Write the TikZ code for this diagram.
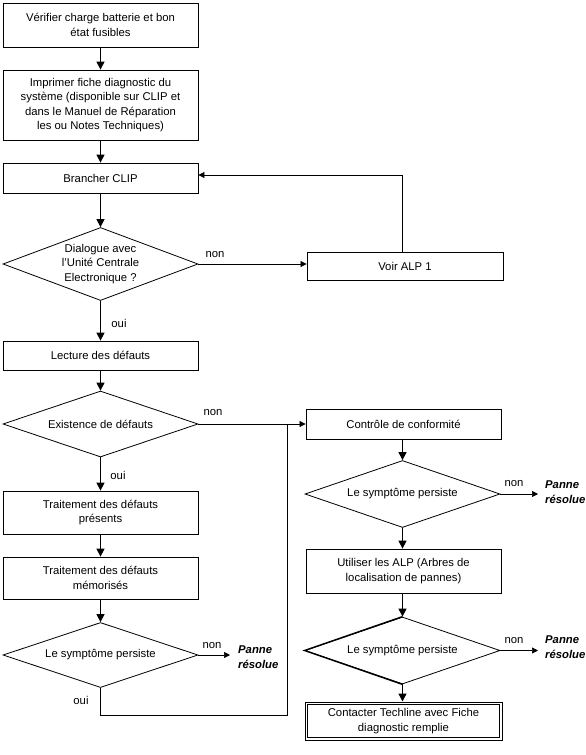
\documentclass[tikz,border=0pt]{standalone}
\usepackage{fontspec}
\setmainfont{Liberation Sans}
\usetikzlibrary{shapes.geometric,arrows.meta,calc}
\begin{document}
\begin{tikzpicture}[x=1pt,y=-1pt,
  font=\fontsize{11.3}{14.5}\selectfont,
  box/.style={draw,line width=0.8pt,rectangle,inner sep=0pt,align=center,minimum width=195pt},
  dia/.style={draw,line width=0.8pt,diamond,inner sep=0pt,align=center,minimum width=195pt,aspect=2.9},
  mainarr/.style={line width=1.3pt,-{Triangle[length=8pt,width=8pt]}},
  sidearr/.style={line width=0.7pt,-{Triangle[length=6pt,width=6pt]}},
  thin line/.style={line width=0.7pt},
  lbl/.style={inner sep=0pt},
  res/.style={inner sep=0pt,align=left,font=\fontsize{11.3}{14.5}\selectfont\bfseries\itshape}]
\useasboundingbox (0,0) rectangle (586,755);
% left column
\node[box,minimum height=44pt] (b1) at (100.5,25) {Vérifier charge batterie et bon\\état fusibles};
\node[box,minimum height=70pt] (b2) at (100.5,105) {Imprimer fiche diagnostic du\\système (disponible sur CLIP et\\dans le Manuel de Réparation\\les ou Notes Techniques)};
\node[box,minimum height=30pt] (b3) at (100.5,178) {Brancher CLIP};
\node[dia,minimum height=73pt] (d1) at (100.5,264) {Dialogue avec\\l'Unité Centrale\\Electronique ?};
\node[box,minimum width=196pt,minimum height=28pt] (alp) at (405,266) {Voir ALP 1};
\node[box,minimum height=29pt] (b4) at (100.5,355.5) {Lecture des défauts};
\node[dia,minimum height=66pt] (d2) at (100.5,424) {Existence de défauts};
\node[box,minimum height=43pt] (b5) at (100.5,512.5) {Traitement des défauts\\présents};
\node[box,minimum height=42pt] (b6) at (100.5,578) {Traitement des défauts\\mémorisés};
\node[dia,minimum height=65pt] (d3) at (100.5,655) {Le symptôme persiste};
\node[res,anchor=west] (r1) at (238,657) {Panne\\résolue};
% right column
\node[box,minimum height=30pt] (ctrl) at (403.5,424) {Contrôle de conformité};
\node[dia,minimum height=67pt] (d4) at (402.5,494) {Le symptôme persiste};
\node[res,anchor=west] (r2) at (545,492) {Panne\\résolue};
\node[box,minimum height=44pt] (b7) at (403.5,571) {Utiliser les ALP (Arbres de\\localisation de pannes)};
\node[dia,minimum height=67pt] (d5) at (402.5,650.5) {Le symptôme persiste};
\node[res,anchor=west] (r3) at (545,647) {Panne\\résolue};
\node[box,line width=1pt,minimum width=197pt,minimum height=38pt] (b8) at (403.5,721) {Contacter Techline avec Fiche\\diagnostic remplie};
\draw[line width=0.7pt] ([shift={(3pt,-3pt)}]b8.north west) rectangle ([shift={(-3pt,3pt)}]b8.south east);
\draw[line width=1.4pt,line join=miter] (d5.north) -- (d5.west) -- (d5.south);
% coordinates
\coordinate (m) at (287,424);
\coordinate (j) at (287,715);
% main arrows
\draw[mainarr] (b1) -- (b2);
\draw[mainarr] (b2) -- (b3);
\draw[mainarr] (b3) -- (d1);
\draw[mainarr] (d1) -- (b4);
\draw[mainarr] (b4) -- (d2);
\draw[mainarr] (d2) -- (b5);
\draw[mainarr] (b5) -- (b6);
\draw[mainarr] (b6) -- (d3);
\draw[mainarr] (ctrl.south -| d4.north) -- (d4.north);
\draw[mainarr] (d4.south) -- (b7.north -| d4.south);
\draw[mainarr] (b7.south -| d5.north) -- (d5.north);
\draw[mainarr] (d5.south) -- (b8.north -| d5.south);
% side arrows
\draw[sidearr] (d1.east) -- (d1.east -| alp.west);
\draw[sidearr] ([xshift=-3pt]alp.north) |- ([yshift=3pt]b3.east);
\draw[sidearr] (d2.east) -- (ctrl.west);
\draw[thin line] (d3.south) |- (j) -- (m);
\draw[sidearr] (d3.east) -- ([xshift=-8pt]r1.west |- d3.east);
\draw[sidearr] (d4.east) -- ([xshift=-7pt]r2.west |- d4.east);
\draw[sidearr] (d5.east) -- ([xshift=-7pt]r3.west |- d5.east);
% labels
\node[lbl] (n1) at (215,255) {non};
\node[lbl] (o1) at (119,323) {oui};
\node[lbl] (n2) at (213,413) {non};
\node[lbl] (o2) at (118,475) {oui};
\node[lbl] (n3) at (212,646) {non};
\node[lbl] (o3) at (81,700) {oui};
\node[lbl] (n4) at (514,484) {non};
\node[lbl] (n5) at (514,641) {non};
\end{tikzpicture}
\end{document}
